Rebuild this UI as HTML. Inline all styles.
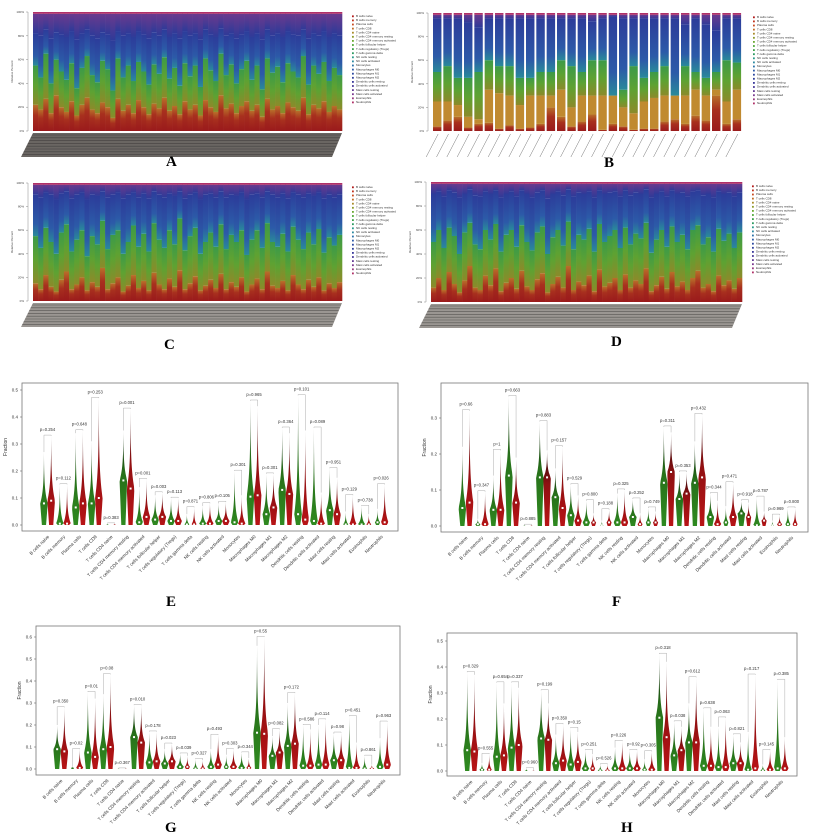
<!DOCTYPE html>
<html><head><meta charset="utf-8">
<style>
html,body{margin:0;padding:0;background:#fff;}
svg{display:block;font-family:"Liberation Sans",sans-serif;}
.pl{font-family:"Liberation Serif",serif;font-weight:bold;font-size:15px;}
</style></head>
<body>
<svg id="fig" width="817" height="840" viewBox="0 0 817 840" xmlns="http://www.w3.org/2000/svg">
<defs>
 <linearGradient id="gRed" x1="0" y1="1" x2="0" y2="0"><stop offset="0" stop-color="#9a1a1c"/><stop offset="0.6" stop-color="#a8301e"/><stop offset="1" stop-color="#b8702a"/></linearGradient>
 <linearGradient id="gGreen" x1="0" y1="1" x2="0" y2="0"><stop offset="0" stop-color="#8c8a2a"/><stop offset="0.5" stop-color="#5ea232"/><stop offset="1" stop-color="#3c9a48"/></linearGradient>
 <linearGradient id="gBlue" x1="0" y1="1" x2="0" y2="0"><stop offset="0" stop-color="#2a8a9a"/><stop offset="0.3" stop-color="#2c5aa8"/><stop offset="1" stop-color="#2c3c9a"/></linearGradient>
 <linearGradient id="gPurp" x1="0" y1="1" x2="0" y2="0"><stop offset="0" stop-color="#2e3a98"/><stop offset="1" stop-color="#6a3a8e"/></linearGradient>
 <linearGradient id="vG" x1="0" y1="1" x2="0" y2="0"><stop offset="0" stop-color="#2f8a20"/><stop offset="0.55" stop-color="#27701a"/><stop offset="1" stop-color="#101a0a"/></linearGradient>
 <linearGradient id="vR" x1="0" y1="1" x2="0" y2="0"><stop offset="0" stop-color="#b81416"/><stop offset="0.55" stop-color="#901012"/><stop offset="1" stop-color="#200808"/></linearGradient>
</defs>
<g id="root"></g>
<text class="pl" x="166" y="166">A</text>
<text class="pl" x="604" y="167">B</text>
<text class="pl" x="164" y="349">C</text>
<text class="pl" x="611" y="346">D</text>
<text class="pl" x="166" y="606">E</text>
<text class="pl" x="612" y="606">F</text>
<text class="pl" x="165" y="832">G</text>
<text class="pl" x="621" y="832">H</text>
</svg>
<script>
const cellTypes = ["B cells naive","B cells memory","Plasma cells","T cells CD8","T cells CD4 naive","T cells CD4 memory resting","T cells CD4 memory activated","T cells follicular helper","T cells regulatory (Tregs)","T cells gamma delta","NK cells resting","NK cells activated","Monocytes","Macrophages M0","Macrophages M1","Macrophages M2","Dendritic cells resting","Dendritic cells activated","Mast cells resting","Mast cells activated","Eosinophils","Neutrophils"];
const stackTicks = ["0%","20%","40%","60%","80%","100%"];
const aRed = [.22,.18,.27,.15,.3,.2,.16,.25,.13,.22,.28,.18,.15,.24,.2,.11,.27,.17,.22,.15,.26,.2,.14,.23,.19,.28,.17,.21,.14,.25,.18,.22,.13,.26,.2,.16,.3,.19,.23,.15,.21,.25,.17,.22,.12,.27,.18,.21,.15,.24,.2,.17,.28,.14,.22,.19,.25,.16,.21,.18];
const aGreen = [.55,.45,.65,.4,.6,.5,.43,.57,.36,.53,.63,.47,.41,.59,.52,.34,.61,.45,.55,.42,.58,.5,.39,.56,.48,.62,.44,.53,.38,.57,.46,.55,.37,.61,.51,.42,.65,.47,.56,.4,.52,.59,.43,.55,.35,.61,.49,.54,.41,.57,.5,.45,.63,.39,.55,.48,.58,.42,.53,.47];
const aBlue = [.82,.8,.85,.78,.83,.81,.79,.84,.77,.82,.85,.8,.78,.83,.81,.76,.84,.8,.82,.79,.84,.81,.78,.83,.8,.85,.79,.82,.78,.84,.8,.82,.77,.85,.81,.79,.86,.8,.82,.78,.81,.84,.79,.82,.77,.85,.8,.82,.79,.84,.81,.8,.85,.78,.82,.8,.84,.79,.82,.8];
const bRed = [.04,.09,.12,.03,.06,.07,.02,.05,.02,.03,.06,.2,.12,.04,.08,.14,.01,.06,.04,.01,.02,.02,.08,.1,.06,.13,.09,.3,.06,.1];
const bOrange = [.25,.25,.22,.12,.1,.35,.32,.3,.22,.3,.3,.3,.35,.2,.3,.3,.3,.3,.2,.15,.25,.28,.3,.3,.3,.35,.3,.35,.25,.35];
const bGreen = [.5,.55,.45,.45,.5,.6,.55,.55,.45,.45,.5,.5,.6,.55,.5,.6,.6,.3,.35,.55,.45,.5,.55,.3,.55,.5,.45,.5,.6,.58];
const bBlue = [.95,.95,.95,.92,.88,.95,.95,.95,.95,.95,.95,.95,.95,.95,.95,.93,.95,.97,.95,.95,.95,.95,.95,.95,.9,.95,.9,.85,.95,.95];
const cRed = [.15,.1,.22,.12,.08,.18,.25,.1,.14,.2,.09,.16,.12,.28,.1,.15,.2,.08,.13,.22,.11,.17,.09,.24,.14,.1,.19,.12,.26,.1,.15,.21,.09,.13,.18,.11,.23,.1,.16,.12,.2,.08,.14,.19,.1,.25,.13,.11,.17,.09,.22,.14,.1,.18,.12,.2,.09,.15,.11,.16];
const cGreen = [.55,.45,.62,.5,.4,.58,.65,.42,.52,.6,.38,.55,.48,.68,.44,.56,.6,.4,.5,.64,.46,.57,.42,.66,.52,.45,.6,.48,.7,.43,.55,.62,.4,.5,.58,.46,.65,.44,.56,.5,.6,.39,.52,.6,.45,.66,.5,.46,.57,.42,.63,.52,.44,.58,.48,.61,.41,.54,.47,.56];
const cBlue = [.9,.88,.92,.9,.86,.91,.93,.87,.9,.92,.86,.9,.89,.93,.88,.9,.92,.87,.9,.92,.88,.91,.87,.93,.9,.88,.91,.89,.93,.87,.9,.92,.86,.9,.91,.88,.93,.88,.9,.89,.92,.86,.9,.91,.88,.93,.9,.88,.91,.87,.92,.9,.88,.91,.89,.92,.87,.9,.88,.9];
const dRed = [.12,.2,.1,.25,.15,.08,.18,.3,.12,.1,.22,.14,.28,.09,.16,.2,.11,.26,.13,.1,.19,.24,.08,.15,.21,.12,.3,.1,.17,.14,.22,.09,.27,.13,.16,.2,.1,.23,.12,.18,.15,.28,.09,.14,.21,.11,.25,.13,.17,.1,.2,.26,.12,.15,.09,.22,.14,.18,.11,.2];
const dGreen = [.5,.6,.45,.62,.55,.4,.58,.66,.48,.44,.6,.52,.65,.42,.56,.6,.46,.64,.5,.43,.58,.63,.4,.54,.6,.47,.67,.44,.56,.52,.61,.42,.65,.5,.55,.6,.45,.62,.48,.57,.53,.66,.41,.52,.6,.46,.63,.5,.56,.44,.6,.64,.48,.54,.42,.61,.51,.57,.45,.58];
const dBlue = [.9,.92,.88,.93,.91,.87,.9,.94,.89,.88,.92,.9,.93,.87,.9,.92,.88,.93,.9,.87,.91,.93,.86,.9,.92,.89,.94,.88,.91,.9,.92,.87,.93,.9,.91,.92,.88,.93,.89,.91,.9,.94,.87,.9,.92,.88,.93,.9,.91,.88,.92,.93,.89,.9,.87,.92,.9,.91,.88,.91];

const violinCats = ["B cells naive","B cells memory","Plasma cells","T cells CD8","T cells CD4 naive","T cells CD4 memory resting","T cells CD4 memory activated","T cells follicular helper","T cells regulatory (Tregs)","T cells gamma delta","NK cells resting","NK cells activated","Monocytes","Macrophages M0","Macrophages M1","Macrophages M2","Dendritic cells resting","Dendritic cells activated","Mast cells resting","Mast cells activated","Eosinophils","Neutrophils"];
const eGMax=[.27,.15,.34,.31,.005,.35,.14,.11,.10,.04,.07,.08,.20,.46,.19,.36,.48,.36,.21,.05,.07,.06];
const eGMed=[.08,.005,.065,.08,0,.165,.01,.02,.015,.002,.005,.015,.01,.105,.04,.13,.04,.015,.055,.002,.002,.01];
const eRMax=[.33,.15,.35,.47,.005,.43,.17,.12,.10,.065,.08,.085,.11,.44,.19,.34,.35,.12,.175,.11,.04,.15];
const eRMed=[.09,.005,.08,.10,0,.135,.03,.03,.015,.002,.005,.015,.005,.11,.065,.115,.02,.005,.04,.002,.002,.01];
const eP=["p=0.254","p=0.112","p=0.648","p=0.253","p=0.383","p=0.001","p=0.001","p=0.003","p=0.113","p=0.871","p=0.806","p=0.105","p=0.301","p=0.965","p=0.301","p=0.364","p=0.101","p=0.089","p=0.951","p=0.129","p=0.738","p=0.026"];
const eTicks=[0,0.1,0.2,0.3,0.4,0.5];
const fGMax=[.22,.02,.14,.36,.002,.29,.16,.115,.07,.015,.09,.075,.05,.275,.15,.235,.09,.055,.07,.08,.015,.05];
const fGMed=[.05,.005,.045,.14,0,.135,.08,.03,.01,.002,.01,.025,.01,.12,.075,.12,.025,.01,.035,.002,.002,.005];
const fRMax=[.32,.095,.21,.19,.002,.21,.22,.085,.035,.045,.10,.035,.04,.26,.15,.31,.07,.12,.065,.04,.03,.05];
const fRMed=[.065,.005,.045,.065,0,.135,.05,.015,.01,.01,.01,.005,.01,.15,.09,.135,.005,.025,.025,.015,.005,.005];
const fP=["p=0.66","p=0.347","p=1","p=0.663","p=0.885","p=0.883","p=0.157","p=0.529","p=0.800","p=0.188","p=0.325","p=0.252","p=0.749","p=0.311","p=0.353","p=0.432","p=0.344","p=0.471","p=0.918","p=0.787","p=0.969","p=0.800"];
const fTicks=[0,0.1,0.2,0.3];
const gGMax=[.20,.01,.35,.34,.002,.29,.17,.09,.07,.045,.09,.065,.075,.56,.15,.30,.20,.20,.16,.24,.06,.14];
const gGMed=[.09,.005,.075,.09,0,.145,.03,.025,.01,.002,.01,.01,.005,.165,.06,.105,.015,.02,.04,.005,.002,.01];
const gRMax=[.28,.09,.32,.43,.002,.29,.17,.115,.06,.04,.155,.09,.05,.60,.18,.345,.18,.225,.165,.12,.02,.215];
const gRMed=[.08,.005,.055,.10,0,.12,.035,.035,.01,.002,.02,.01,.005,.16,.075,.115,.015,.02,.04,.005,.002,.02];
const gP=["p=0.350","p=0.02","p=0.01","p=0.08","p=0.367","p=0.010","p=0.178","p=0.023","p=0.039","p=0.327","p=0.493","p=0.303","p=0.344","p=0.55","p=0.082","p=0.172","p=0.586","p=0.114","p=0.98","p=0.451","p=0.861","p=0.963"];
const gTicks=[0,0.1,0.2,0.3,0.4,0.5,0.6];
const hGMax=[.38,.03,.34,.34,.01,.31,.14,.165,.08,.025,.09,.08,.045,.45,.19,.26,.24,.17,.14,.15,.025,.35];
const hGMed=[.08,.005,.055,.09,0,.125,.03,.025,.01,.002,.01,.01,.005,.205,.06,.11,.02,.015,.03,.005,.002,.01];
const hRMax=[.37,.065,.26,.32,.002,.26,.18,.15,.065,.025,.115,.08,.075,.42,.17,.36,.17,.205,.11,.37,.08,.13];
const hRMed=[.075,.005,.06,.10,0,.12,.04,.035,.01,.002,.01,.01,.005,.13,.08,.11,.02,.015,.03,.01,.005,.01];
const hP=["p=0.329","p=0.555","p=0.654","p=0.337","p=0.960","p=0.199","p=0.350","p=0.15","p=0.251","p=0.526","p=0.226","p=0.92","p=0.305","p=0.318","p=0.038","p=0.612","p=0.638","p=0.063","p=0.821","p=0.217","p=0.145","p=0.385"];
const hTicks=[0,0.1,0.2,0.3,0.4,0.5];

const NS="http://www.w3.org/2000/svg";
const root=document.getElementById('root');
function mk(tag,attrs,parent){const e=document.createElementNS(NS,tag);for(const k in attrs)e.setAttribute(k,attrs[k]);(parent||root).appendChild(e);return e;}
const legendColors=["#b01a1a","#c0301c","#c84a20","#c06a24","#a88a28","#8a9a2a","#6aa830","#4ea838","#3aa048","#2a9a60","#2a9a8a","#2a8aa0","#2a70a8","#2c5aa8","#2c48a0","#30409a","#38389a","#4a3a98","#603a94","#7a3a90","#983a80","#b03068"];

function stacked(name,x0,y0,w,h,red,orange,green,blue,gap,bandColor){
  const g=mk('g',{});
  
  
  const n=red.length, bw=w/n;
  const y=v=>y0+h-v*h;
  for(let i=0;i<n;i++){
    const x=x0+i*bw, ww=bw-gap+0.3;
    const segs=[];
    segs.push([0,red[i],'url(#gRed)']);
    if(orange){segs.push([red[i],orange[i],'#c08a30']);segs.push([orange[i],green[i],'url(#gGreen)']);}
    else segs.push([red[i],green[i],'url(#gGreen)']);
    segs.push([green[i],blue[i],'url(#gBlue)']);
    segs.push([blue[i],0.985,'url(#gPurp)']);
    segs.push([0.985,1,'#b03068']);
    segs.forEach(s=>{
      const r=mk('rect',{x:x,y:y(s[1]),width:ww,height:Math.max(0,y(s[0])-y(s[1])),fill:s[2]},g);
      
      
    });
  }
  mk('line',{x1:x0-5,y1:y0,x2:x0-5,y2:y0+h,stroke:'#888','stroke-width':0.5},g);
  stackTicks.forEach((t,i)=>{const yy=y(i/5);
    mk('line',{x1:x0-7,y1:yy,x2:x0-5,y2:yy,stroke:'#888','stroke-width':0.5},g);
    const tx=mk('text',{x:x0-9,y:yy+1,'font-size':3,'text-anchor':'end',fill:'#444'},g);tx.textContent=t;
    
    });
  const yt=mk('text',{x:0,y:0,'font-size':3,'text-anchor':'middle',fill:'#444',transform:`translate(${x0-20},${y0+h/2}) rotate(-90)`},g);yt.textContent='Relative Percent';
  
  
  if(bandColor){
    mk('polygon',{points:`${x0},${y0+h+2} ${x0+w},${y0+h+2} ${x0+w-10},${y0+h+26} ${x0-12},${y0+h+26}`,fill:bandColor},g);
    for(let k=0;k<8;k++){const yy=y0+h+4+k*2.8;
      mk('line',{x1:x0-1-k*1.4,y1:yy,x2:x0+w-1-k*1.2,y2:yy,stroke:'#2a2a2a','stroke-width':0.6,opacity:0.6},g);}
  } else {
    for(let i=0;i<n;i++){const cx=x0+i*bw+bw/2;
      mk('line',{x1:cx,y1:y0+h+3,x2:cx-12,y2:y0+h+26,stroke:'#777','stroke-width':0.5},g);}
  }
  const lx=x0+w+10;
  cellTypes.forEach((c,i)=>{const yy=y0+5+i*4.1;
    mk('rect',{x:lx,y:yy-1.6,width:1.8,height:1.8,fill:legendColors[i]},g);
    const t=mk('text',{x:lx+4,y:yy,'font-size':3,fill:'#333'},g);t.textContent=c;
    
    });
}
stacked('stacked-bar-a',33,12,309,119,aRed,null,aGreen,aBlue,0,'#6a6662');
stacked('stacked-bar-b',433,13,310,118,bRed,bOrange,bGreen,bBlue,2.2,null);
stacked('stacked-bar-c',33,183,309,118,cRed,null,cGreen,cBlue,0,'#9a9692');
stacked('stacked-bar-d',431,182,311,120,dRed,null,dGreen,dBlue,0,'#9a9692');

function violinPanel(name,bx,by,bw,bh,zeroY,pxPerUnit,ticks,gMax,gMed,rMax,rMed,pl){
  const g=mk('g',{});
  
  
  mk('rect',{x:bx,y:by,width:bw,height:bh,fill:'none',stroke:'#777','stroke-width':0.8},g);
  const Y=v=>zeroY-v*pxPerUnit;
  ticks.forEach(t=>{mk('line',{x1:bx-2,y1:Y(t),x2:bx,y2:Y(t),stroke:'#555','stroke-width':0.5},g);
    const tx=mk('text',{x:bx-4,y:Y(t)+1.5,'font-size':4.5,'text-anchor':'end',fill:'#333'},g);tx.textContent=t.toFixed(1);
    
    });
  const yt=mk('text',{x:0,y:0,'font-size':5,'text-anchor':'middle',fill:'#333',transform:`translate(${bx-15},${by+bh/2-10}) rotate(-90)`},g);yt.textContent='Fraction';
  
  
  const n=violinCats.length, left=bx+bw*0.068, right=bx+bw*0.955, step=(right-left)/(n-1);
  function violin(cx,max,med,fill){
    const W=max<0.02?1.6:(max<0.07?2.6:3.8);
    const top=Math.max(max,0.001), pts=[], steps=24;
    for(let k=0;k<=steps;k++){const v=top*k/steps;let s;
      if(v<=med&&med>0) s=0.55+0.45*(v/med);
      else {const u=(v-med)/Math.max(top-med,1e-6);s=Math.exp(-3*u)*(1-u);}
      pts.push([v,W*s]);}
    let d=pts.map((p,i)=>(i?'L':'M')+(cx+p[1]).toFixed(2)+','+Y(p[0]).toFixed(2)).join('');
    d+=pts.slice().reverse().map(p=>'L'+(cx-p[1]).toFixed(2)+','+Y(p[0]).toFixed(2)).join('')+'Z';
    const p=mk('path',{d:d,fill:fill},g);
    
    
    if(max>0.01){const m=mk('rect',{x:cx-1,y:Y(med)-1,width:2,height:2,fill:'#fff'},g);
      
      }
  }
  violinCats.forEach((c,i)=>{
    const cx=left+i*step, gx=cx-3.6, rx=cx+3.6;
    violin(gx,gMax[i],gMed[i],'url(#vG)');
    violin(rx,rMax[i],rMed[i],'url(#vR)');
    const tb=Math.max(gMax[i],rMax[i])+0.003, yb=Y(tb);
    mk('path',{d:`M${gx},${Y(gMax[i])}L${gx},${yb}L${rx},${yb}L${rx},${Y(rMax[i])}`,fill:'none',stroke:'#999','stroke-width':0.4},g);
    const pt=mk('text',{x:cx,y:yb-4,'font-size':4.2,'text-anchor':'middle',fill:'#333'},g);pt.textContent=pl[i];
    
    
    const lt=mk('text',{x:0,y:0,'font-size':4.6,'text-anchor':'end',fill:'#333',transform:`translate(${cx+2},${by+bh+6}) rotate(-45)`},g);lt.textContent=c;
    
    
  });
}
violinPanel('violin-e',22,383,376,148,525,270,eTicks,eGMax,eGMed,eRMax,eRMed,eP);
violinPanel('violin-f',441,383,367,149,526,360,fTicks,fGMax,fGMed,fRMax,fRMed,fP);
violinPanel('violin-g',36,626,364,149,769,220,gTicks,gGMax,gGMed,gRMax,gRMed,gP);
violinPanel('violin-h',447,633,350,143,771,260,hTicks,hGMax,hGMed,hRMax,hRMed,hP);
</script>
</body></html>
